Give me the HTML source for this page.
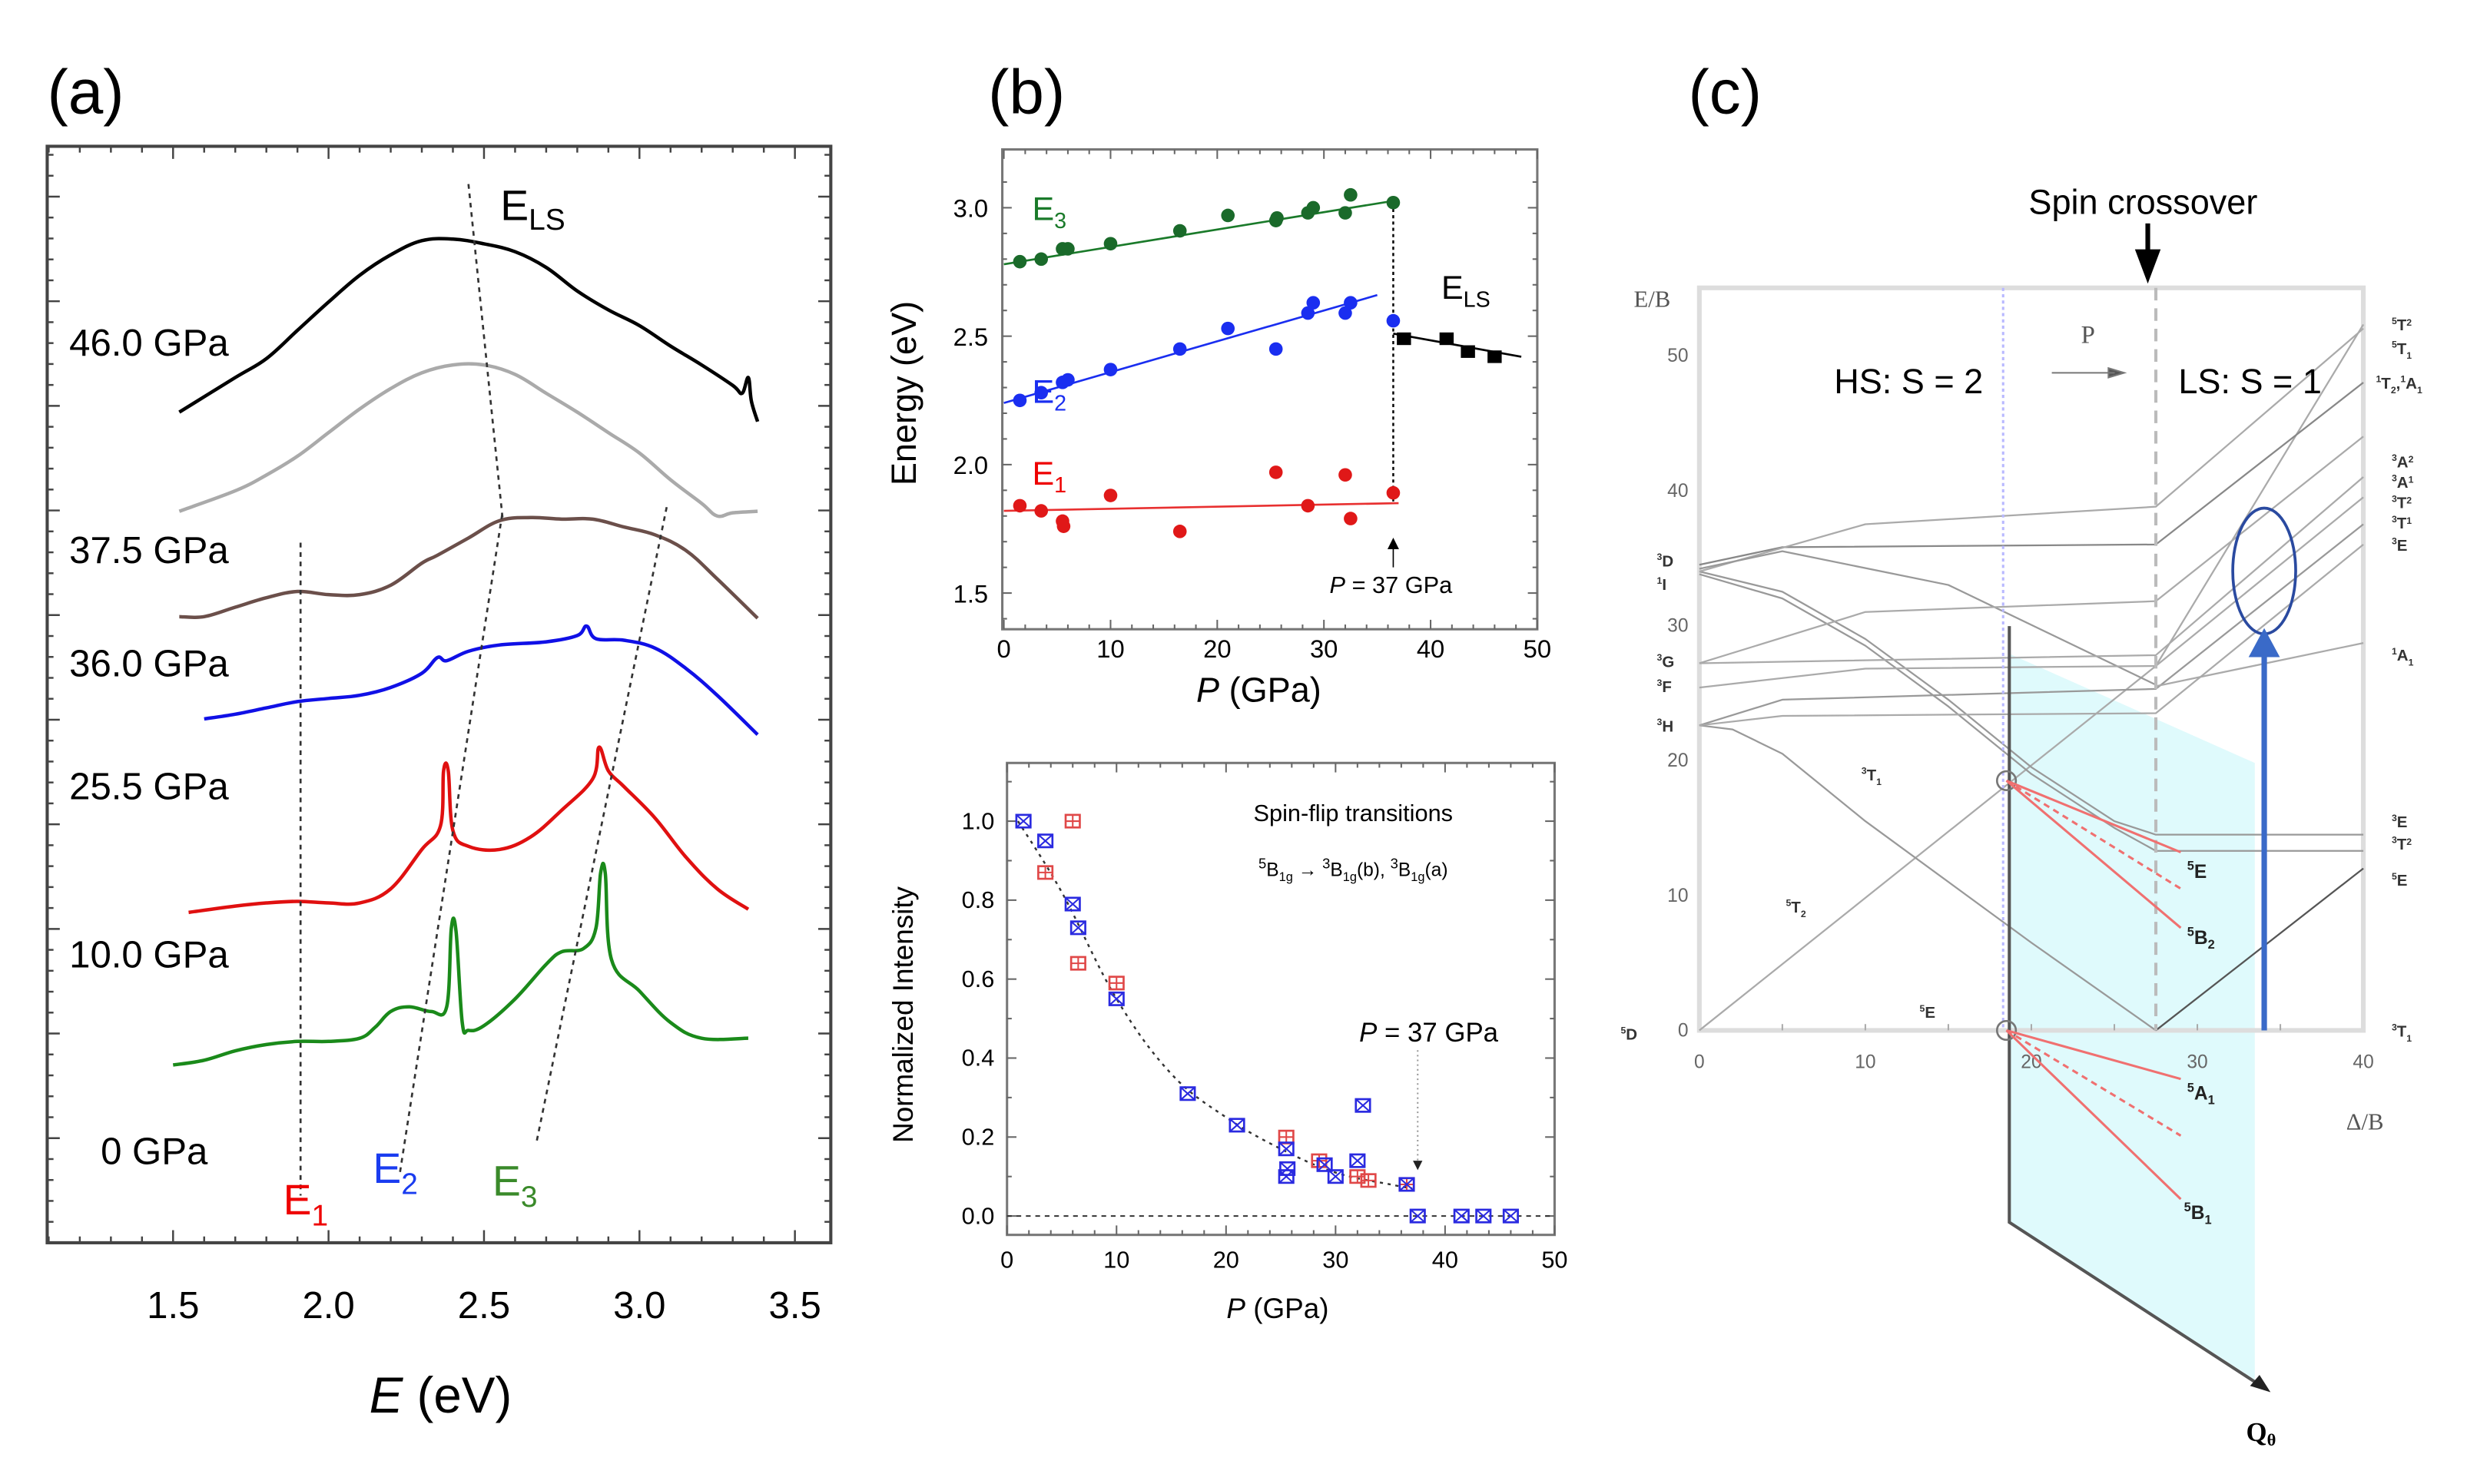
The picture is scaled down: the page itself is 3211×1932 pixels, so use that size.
<!DOCTYPE html>
<html><head><meta charset="utf-8">
<style>
html,body{margin:0;padding:0;background:#fff;}
svg{display:block;}
text{font-family:"Liberation Sans","DejaVu Sans",sans-serif;}
.ser{font-family:"Liberation Serif","DejaVu Serif",serif;}
</style></head>
<body>
<svg id="fig" width="3211" height="1932" viewBox="0 0 3211 1932" xmlns="http://www.w3.org/2000/svg">
<g id="root" transform="scale(2.048)">
 <g id="pa">
  <text x="30" y="72" font-size="40">(a)</text>
  <rect x="30" y="93" width="498" height="697" fill="none" stroke="#444" stroke-width="2"/>
  <g id="pa-ticks"></g>
  <g id="pa-curves"></g>
  <g font-size="24" fill="#000">
   <text x="44" y="226">46.0 GPa</text>
   <text x="44" y="358">37.5 GPa</text>
   <text x="44" y="430">36.0 GPa</text>
   <text x="44" y="508">25.5 GPa</text>
   <text x="44" y="615">10.0 GPa</text>
   <text x="64" y="740">0 GPa</text>
  </g>
  <text x="318" y="140" font-size="27">E<tspan font-size="19" dy="6">LS</tspan></text>
  <text x="180" y="772" font-size="27" fill="#e00">E<tspan font-size="19" dy="7">1</tspan></text>
  <text x="237" y="752" font-size="27" fill="#1a3cf0">E<tspan font-size="19" dy="7">2</tspan></text>
  <text x="313" y="760" font-size="27" fill="#3a8a2a">E<tspan font-size="19" dy="7">3</tspan></text>
  <g id="pa-xlabels" font-size="24" text-anchor="middle"></g>
  <text x="280" y="898" font-size="32" text-anchor="middle"><tspan font-style="italic">E</tspan> (eV)</text>
 </g>
 <g id="pb">
  <text x="628" y="72" font-size="40">(b)</text>
  <rect x="637" y="95" width="340" height="305" fill="none" stroke="#777" stroke-width="1.5"/>
  <g id="pb-ticks"></g>
  <g id="pb-marks"></g>
  <text x="656" y="140" font-size="21" fill="#1a7a2a">E<tspan font-size="14" dy="5">3</tspan></text>
  <text x="656" y="256" font-size="21" fill="#1a2ef0">E<tspan font-size="14" dy="5">2</tspan></text>
  <text x="656" y="308" font-size="21" fill="#e00">E<tspan font-size="14" dy="5">1</tspan></text>
  <text x="916" y="190" font-size="21">E<tspan font-size="14" dy="5">LS</tspan></text>
  <text x="845" y="377" font-size="15"><tspan font-style="italic">P</tspan> = 37 GPa</text>
  <text x="582" y="250" font-size="22" text-anchor="middle" transform="rotate(-90 582 250)">Energy (eV)</text>
  <text x="800" y="446" font-size="22" text-anchor="middle"><tspan font-style="italic">P</tspan> (GPa)</text>

  <rect x="640" y="485" width="348" height="300" fill="none" stroke="#777" stroke-width="1.5"/>
  <g id="pc-ticks"></g>
  <g id="pc-marks"></g>
  <text x="860" y="522" font-size="15" text-anchor="middle">Spin-flip transitions</text>
  <text x="860" y="557" font-size="12" text-anchor="middle"><tspan font-size="9" dy="-5">5</tspan><tspan dy="5">B</tspan><tspan font-size="8" dy="3">1g</tspan><tspan dy="-3"> → </tspan><tspan font-size="9" dy="-5">3</tspan><tspan dy="5">B</tspan><tspan font-size="8" dy="3">1g</tspan><tspan dy="-3">(b), </tspan><tspan font-size="9" dy="-5">3</tspan><tspan dy="5">B</tspan><tspan font-size="8" dy="3">1g</tspan><tspan dy="-3">(a)</tspan></text>
  <text x="908" y="662" font-size="17" text-anchor="middle"><tspan font-style="italic">P</tspan> = 37 GPa</text>
  <text x="580" y="645" font-size="18" text-anchor="middle" transform="rotate(-90 580 645)">Normalized Intensity</text>
  <text x="812" y="838" font-size="18" text-anchor="middle"><tspan font-style="italic">P</tspan> (GPa)</text>
 </g>
 <g id="pcc">
  <text x="1073" y="72" font-size="40">(c)</text>
  <polygon id="cyan" fill="#dffafc"/>
  <rect x="1080" y="183" width="422" height="472" fill="none" stroke="#ddd" stroke-width="3"/>
  <g id="pd-ticks" class="ser"></g>
  <g id="pd-lines"></g>
  <g id="pd-over"></g>
  <text x="1362" y="136" font-size="22" text-anchor="middle">Spin crossover</text>
  <text x="1213" y="250" font-size="22" text-anchor="middle">HS: S = 2</text>
  <text x="1430" y="250" font-size="22" text-anchor="middle">LS: S = 1</text>
  <text x="1327" y="218" font-size="16" class="ser" fill="#555" text-anchor="middle">P</text>
  <text x="1050" y="195" font-size="15" class="ser" fill="#555" text-anchor="middle">E/B</text>
  <text x="1503" y="718" font-size="15" class="ser" fill="#555" text-anchor="middle">Δ/B</text>
  <text x="1437" y="916" font-size="17" class="ser" font-weight="bold" text-anchor="middle">Q<tspan font-size="11" dy="3">θ</tspan></text>
  <g class="ser" font-size="10" font-weight="bold" fill="#333">
   <text x="1183" y="496"><tspan font-size="6" dy="-4">3</tspan><tspan dy="4">T</tspan><tspan font-size="6" dy="3">1</tspan></text>
   <text x="1135" y="580"><tspan font-size="6" dy="-4">5</tspan><tspan dy="4">T</tspan><tspan font-size="6" dy="3">2</tspan></text>
   <text x="1220" y="647"><tspan font-size="6" dy="-4">5</tspan><tspan dy="4">E</tspan></text>
   <text x="1030" y="661"><tspan font-size="6" dy="-4">5</tspan><tspan dy="4">D</tspan></text>
   <text x="1053" y="360"><tspan font-size="6" dy="-4">3</tspan><tspan dy="4">D</tspan></text>
   <text x="1053" y="375"><tspan font-size="6" dy="-4">1</tspan><tspan dy="4">I</tspan></text>
   <text x="1053" y="424"><tspan font-size="6" dy="-4">3</tspan><tspan dy="4">G</tspan></text>
   <text x="1053" y="440"><tspan font-size="6" dy="-4">3</tspan><tspan dy="4">F</tspan></text>
   <text x="1053" y="465"><tspan font-size="6" dy="-4">3</tspan><tspan dy="4">H</tspan></text>
   <text x="1520" y="210"><tspan font-size="6" dy="-4">5</tspan><tspan dy="4">T</tspan><tspan font-size="6" dy="-3">2</tspan></text>
   <text x="1520" y="225"><tspan font-size="6" dy="-4">5</tspan><tspan dy="4">T</tspan><tspan font-size="6" dy="3">1</tspan></text>
   <text x="1510" y="247"><tspan font-size="6" dy="-4">1</tspan><tspan dy="4">T</tspan><tspan font-size="6" dy="3">2</tspan><tspan dy="-3">,</tspan><tspan font-size="6" dy="-4">1</tspan><tspan dy="4">A</tspan><tspan font-size="6" dy="3">1</tspan></text>
   <text x="1520" y="297"><tspan font-size="6" dy="-4">3</tspan><tspan dy="4">A</tspan><tspan font-size="6" dy="-3">2</tspan></text>
   <text x="1520" y="310"><tspan font-size="6" dy="-4">3</tspan><tspan dy="4">A</tspan><tspan font-size="6" dy="-3">1</tspan></text>
   <text x="1520" y="323"><tspan font-size="6" dy="-4">3</tspan><tspan dy="4">T</tspan><tspan font-size="6" dy="-3">2</tspan></text>
   <text x="1520" y="336"><tspan font-size="6" dy="-4">3</tspan><tspan dy="4">T</tspan><tspan font-size="6" dy="-3">1</tspan></text>
   <text x="1520" y="350"><tspan font-size="6" dy="-4">3</tspan><tspan dy="4">E</tspan></text>
   <text x="1520" y="420"><tspan font-size="6" dy="-4">1</tspan><tspan dy="4">A</tspan><tspan font-size="6" dy="3">1</tspan></text>
   <text x="1520" y="526"><tspan font-size="6" dy="-4">3</tspan><tspan dy="4">E</tspan></text>
   <text x="1520" y="540"><tspan font-size="6" dy="-4">3</tspan><tspan dy="4">T</tspan><tspan font-size="6" dy="-3">2</tspan></text>
   <text x="1520" y="563"><tspan font-size="6" dy="-4">5</tspan><tspan dy="4">E</tspan></text>
   <text x="1520" y="659"><tspan font-size="6" dy="-4">3</tspan><tspan dy="4">T</tspan><tspan font-size="6" dy="3">1</tspan></text>
  </g>
  <g class="ser" font-size="12" font-weight="bold" fill="#222">
   <text x="1390" y="558"><tspan font-size="8" dy="-5">5</tspan><tspan dy="5">E</tspan></text>
   <text x="1390" y="600"><tspan font-size="8" dy="-5">5</tspan><tspan dy="5">B</tspan><tspan font-size="8" dy="3">2</tspan></text>
   <text x="1390" y="699"><tspan font-size="8" dy="-5">5</tspan><tspan dy="5">A</tspan><tspan font-size="8" dy="3">1</tspan></text>
   <text x="1388" y="775"><tspan font-size="8" dy="-5">5</tspan><tspan dy="5">B</tspan><tspan font-size="8" dy="3">1</tspan></text>
  </g>
 </g>
</g>
</svg>
<script>
const aE_46 = [1.52,1.7,1.8,1.9,2.0,2.1,2.2,2.3,2.4,2.5,2.6,2.7,2.8,2.9,3.0,3.1,3.2,3.3,3.33,3.35,3.36,3.38];
const aI_46 = [528,550,562,580,598,615,628,637,638,635,630,620,605,593,583,570,558,545,540,550,535,522];
const aE_44 = [1.52,1.7,1.8,1.9,2.0,2.1,2.2,2.3,2.4,2.5,2.6,2.7,2.8,2.9,3.0,3.1,3.2,3.25,3.3,3.38];
const aI_44 = [465,478,488,500,515,530,543,553,558,558,552,540,528,515,502,485,470,462,464,465];
const aE_375 = [1.52,1.6,1.7,1.8,1.9,2.0,2.1,2.2,2.3,2.35,2.45,2.55,2.65,2.75,2.85,2.95,3.05,3.15,3.25,3.38];
const aI_375 = [398,398,404,410,414,412,412,418,432,437,448,459,461,460,460,455,450,440,422,397];
const aE_36 = [1.6,1.7,1.8,1.9,2.0,2.1,2.2,2.3,2.35,2.38,2.45,2.55,2.7,2.8,2.83,2.86,2.95,3.05,3.15,3.25,3.38];
const aI_36 = [333,336,340,344,346,348,353,362,372,370,376,380,382,386,392,384,383,378,365,348,323];
const aE_255 = [1.55,1.7,1.8,1.9,2.0,2.1,2.2,2.3,2.36,2.37,2.385,2.4,2.45,2.55,2.65,2.75,2.85,2.87,2.9,2.95,3.05,3.15,3.25,3.35];
const aI_255 = [210,214,216,217,216,216,225,250,265,300,300,262,252,250,258,275,295,315,300,290,270,245,225,212];
const aE_0 = [1.5,1.6,1.7,1.8,1.9,2.0,2.1,2.15,2.2,2.26,2.33,2.38,2.395,2.41,2.43,2.45,2.5,2.6,2.7,2.75,2.82,2.86,2.875,2.89,2.91,3.0,3.1,3.2,3.35];
const aI_0 = [113,116,122,126,128,128,130,137,147,150,147,150,200,198,140,135,138,155,177,185,187,200,235,235,180,160,140,130,130];
const aTicks = [1.5,2.0,2.5,3.0,3.5];
const aTickLabels = ["1.5","2.0","2.5","3.0","3.5"];
const aE1Guide = [[1.91,445],[1.91,30]];
const aE2Guide = [[2.23,45],[2.56,465]];
const aELSGuide = [[2.45,673],[2.56,460]];
const aE3Guide = [[2.67,65],[3.09,470]];

const bP_E3 = [1.5,3.5,5.5,6,10,16.5,21,25.5,25.6,28.5,29,32,32.5,36.5];
const bV_E3 = [2.79,2.80,2.84,2.84,2.86,2.91,2.97,2.95,2.96,2.98,3.00,2.98,3.05,3.02];
const bP_E2 = [1.5,3.5,5.5,6,10,16.5,21,25.5,28.5,29,32,32.5,36.5];
const bV_E2 = [2.25,2.28,2.32,2.33,2.37,2.45,2.53,2.45,2.59,2.63,2.59,2.63,2.56];
const bP_E1 = [1.5,3.5,5.5,5.6,10,16.5,25.5,28.5,32,32.5,36.5];
const bV_E1 = [1.84,1.82,1.78,1.76,1.88,1.74,1.97,1.84,1.96,1.79,1.89];
const bP_ELS = [37.5,41.5,43.5,46];
const bV_ELS = [2.49,2.49,2.44,2.42];
const bFitE3 = [[0,2.78],[37,3.03]];
const bFitE2 = [[0,2.24],[35,2.66]];
const bFitE1 = [[0,1.82],[37,1.85]];
const bFitELS = [[36.5,2.51],[48.5,2.42]];
const bYTicks = [1.5,2.0,2.5,3.0];
const bYTickLabels = ["1.5","2.0","2.5","3.0"];
const bXTicks = [0,10,20,30,40,50];
const bXTickLabels = ["0","10","20","30","40","50"];

const cP_blue = [1.5,3.5,6,6.5,10,16.5,21,25.5,25.5,25.6,29,30,32,32.5,36.5,37.5,41.5,43.5,46];
const cV_blue = [1.0,0.95,0.79,0.73,0.55,0.31,0.23,0.17,0.10,0.12,0.13,0.10,0.14,0.28,0.08,0,0,0,0];
const cP_red = [6,3.5,6.5,10,25.5,28.5,32,33,36.5];
const cV_red = [1.0,0.87,0.64,0.59,0.20,0.14,0.10,0.09,0.08];
const cFitP = [1,5,10,15,20,25,30,35,37];
const cFitV = [1.0,0.82,0.55,0.36,0.25,0.17,0.11,0.08,0.07];
const cYTicks = [0,0.2,0.4,0.6,0.8,1.0];
const cYTickLabels = ["0.0","0.2","0.4","0.6","0.8","1.0"];
const cXTicks = [0,10,20,30,40,50];
const cXTickLabels = ["0","10","20","30","40","50"];

const dLines = [
 {d:[0,27.5,40], e:[0,27,52.3], c:"#aaa"},
 {d:[0,2,5,10,15,20,27.5], e:[22.6,22.3,20.5,15.5,11,6.5,0], c:"#999"},
 {d:[27.5,40], e:[0,12], c:"#555"},
 {d:[0,5,10,15,20,25,27.5,40], e:[34,32.5,29,24.5,19.5,15.5,14.5,14.5], c:"#999"},
 {d:[0,5,10,15,20,25,27.5,40], e:[33.8,32,28.5,24,19,15,13.3,13.3], c:"#999"},
 {d:[0,5,27.5,40], e:[34.5,35.8,36,48], c:"#888"},
 {d:[0,10,27.5,40], e:[34,37.5,38.8,52], c:"#aaa"},
 {d:[0,5,15,27.5], e:[34.2,35.5,33,25.6], c:"#999"},
 {d:[0,10,27.5,40], e:[27.2,31,31.8,44], c:"#aaa"},
 {d:[0,27.5,40], e:[27.2,27.8,41], c:"#aaa"},
 {d:[0,10,27.5,40], e:[25.4,26.8,27,39.5], c:"#aaa"},
 {d:[0,5,27.5,40], e:[22.6,24.5,25.3,37.5], c:"#999"},
 {d:[0,5,27.5,40], e:[22.6,23.3,23.5,36], c:"#aaa"},
 {d:[27.5,40], e:[25.5,28.7], c:"#aaa"}
];
const dYTicks = [0,10,20,30,40,50];
const dYTickLabels = ["0","10","20","30","40","50"];
const dXTicks = [0,10,20,30,40];
const dXTickLabels = ["0","10","20","30","40"];

const NS = "http://www.w3.org/2000/svg";
function mk(parent, tag, attrs){const el=document.createElementNS(NS,tag);for(const k in attrs)el.setAttribute(k,attrs[k]);parent.appendChild(el);return el;}
function poly(xs,ys,fx,fy){return xs.map((x,i)=>(i?"L":"M")+fx(x).toFixed(2)+" "+fy(ys[i]).toFixed(2)).join(" ");}
function smooth(xs,ys,fx,fy){
 const P=xs.map((x,i)=>[fx(x),fy(ys[i])]);
 let d="M"+P[0][0].toFixed(2)+" "+P[0][1].toFixed(2);
 for(let i=0;i<P.length-1;i++){
  const p0=P[Math.max(0,i-1)],p1=P[i],p2=P[i+1],p3=P[Math.min(P.length-1,i+2)];
  const t=0.18;
  const c1=[p1[0]+(p2[0]-p0[0])*t,p1[1]+(p2[1]-p0[1])*t];
  const c2=[p2[0]-(p3[0]-p1[0])*t,p2[1]-(p3[1]-p1[1])*t];
  d+=` C${c1[0].toFixed(2)} ${c1[1].toFixed(2)} ${c2[0].toFixed(2)} ${c2[1].toFixed(2)} ${p2[0].toFixed(2)} ${p2[1].toFixed(2)}`;
 }
 return d;}
const $ = id=>document.getElementById(id);

const xA = e => 110 + (e-1.5)*197.6;
const yA = v => 790 - v;
{
 const g=$("pa-ticks");
 for(let e=1.1;e<=3.55;e+=0.1){const maj=Math.abs(e*2-Math.round(e*2))<1e-6;const L=maj?8:4;
  let t=mk(g,"line",{x1:xA(e),x2:xA(e),y1:790,y2:790-L,stroke:"#444","stroke-width":1.2});
  
  
  t=mk(g,"line",{x1:xA(e),x2:xA(e),y1:93,y2:93+L,stroke:"#444","stroke-width":1.2});
  
  }
 for(let k=0;k<=52;k++){const y=790-k*13.3;if(y<93)break;const L=(k%5===0)?8:4;
  let t=mk(g,"line",{x1:30,x2:30+L,y1:y,y2:y,stroke:"#444","stroke-width":1.2});
  
  
  t=mk(g,"line",{x1:528,x2:528-L,y1:y,y2:y,stroke:"#444","stroke-width":1.2});
  
  }
 const gl=$("pa-xlabels");
 aTicks.forEach((v,i)=>{const t=mk(gl,"text",{x:xA(v),y:838});t.textContent=aTickLabels[i];
  
  });
 const gc=$("pa-curves");
 const series=[[aE_46,aI_46,"#000","spectrum-46gpa"],[aE_44,aI_44,"#aaa","spectrum-44gpa"],[aE_375,aI_375,"#6b4f4a","spectrum-37-5gpa"],[aE_36,aI_36,"#1010e6","spectrum-36gpa"],[aE_255,aI_255,"#e01010","spectrum-25-5gpa"],[aE_0,aI_0,"#1a8a1a","spectrum-0gpa"]];
 series.forEach(s=>{const p=mk(gc,"path",{d:smooth(s[0],s[1],xA,yA),fill:"none",stroke:s[2],"stroke-width":2.2,"stroke-linejoin":"round"});
  
  });
 [[aE1Guide,"guide-e1"],[aE2Guide,"guide-e2"],[aELSGuide,"guide-els"],[aE3Guide,"guide-e3"]].forEach(gd=>{
  const pts=gd[0];const l=mk(gc,"line",{x1:xA(pts[0][0]),y1:yA(pts[0][1]),x2:xA(pts[1][0]),y2:yA(pts[1][1]),stroke:"#333","stroke-width":1.3,"stroke-dasharray":"3 3"});
  
  });
}

const xB = p => 638 + p*6.78;
const yB = e => 377 - (e-1.5)*163.3;
{
 const g=$("pb-ticks");
 for(let p=0;p<=50;p+=2){const L=(p%10===0)?6:3;
  let t=mk(g,"line",{x1:xB(p),x2:xB(p),y1:400,y2:400-L,stroke:"#666"});
  
  
  t=mk(g,"line",{x1:xB(p),x2:xB(p),y1:95,y2:95+L,stroke:"#666"});
  
  }
 for(let e=1.4;e<=3.2;e+=0.1){const maj=Math.abs(e*2-Math.round(e*2))<1e-6;const L=maj?6:3;
  let t=mk(g,"line",{x1:637,x2:637+L,y1:yB(e),y2:yB(e),stroke:"#666"});
  
  
  t=mk(g,"line",{x1:977,x2:977-L,y1:yB(e),y2:yB(e),stroke:"#666"});
  
  }
 bYTicks.forEach((v,i)=>{const t=mk(g,"text",{x:628,y:yB(v)+6,"font-size":16,"text-anchor":"end"});t.textContent=bYTickLabels[i];
  
  });
 bXTicks.forEach((v,i)=>{const t=mk(g,"text",{x:xB(v),y:418,"font-size":16,"text-anchor":"middle"});t.textContent=bXTickLabels[i];
  
  });
 const m=$("pb-marks");
 [[bFitE3,"#1a7a2a","fit-e3"],[bFitE2,"#1a2ef0","fit-e2"],[bFitE1,"#e83030","fit-e1"],[bFitELS,"#000","fit-els"]].forEach(f=>{
  const l=mk(m,"line",{x1:xB(f[0][0][0]),y1:yB(f[0][0][1]),x2:xB(f[0][1][0]),y2:yB(f[0][1][1]),stroke:f[1],"stroke-width":1.3});
  
  });
 let l=mk(m,"line",{x1:xB(36.5),y1:yB(3.02),x2:xB(36.5),y2:yB(1.85),stroke:"#000","stroke-width":1.2,"stroke-dasharray":"2 2"});
 
 
 l=mk(m,"path",{d:`M${xB(36.5)} ${yB(1.71)} l-3 6 h6 z M${xB(36.5)} ${yB(1.68)} V${yB(1.6)}`,fill:"#000",stroke:"#000","stroke-width":0.8});
 
 
 [[bP_E3,bV_E3,"#1a6a2a","point-e3"],[bP_E2,bV_E2,"#1a2ef0","point-e2"],[bP_E1,bV_E1,"#e01818","point-e1"]].forEach(s=>{
  s[0].forEach((p,i)=>{const c=mk(m,"circle",{cx:xB(p),cy:yB(s[1][i]),r:4.3,fill:s[2]});
   
   });});
 bP_ELS.forEach((p,i)=>{const r=mk(m,"rect",{x:xB(p)-4.5,y:yB(bV_ELS[i])-4,width:9,height:8,fill:"#000"});
  
  });
}

const xC = p => 640 + p*6.96;
const yC = v => 773 - v*251;
{
 const g=$("pc-ticks");
 for(let p=0;p<=50;p+=2){const L=(p%10===0)?6:3;
  let t=mk(g,"line",{x1:xC(p),x2:xC(p),y1:785,y2:785-L,stroke:"#666"});
  
  
  t=mk(g,"line",{x1:xC(p),x2:xC(p),y1:485,y2:485+L,stroke:"#666"});
  
  }
 for(let k=0;k<=11;k++){const v=k*0.1;const L=(k%2===0)?6:3;
  let t=mk(g,"line",{x1:640,x2:640+L,y1:yC(v),y2:yC(v),stroke:"#666"});
  
  
  t=mk(g,"line",{x1:988,x2:988-L,y1:yC(v),y2:yC(v),stroke:"#666"});
  
  }
 cYTicks.forEach((v,i)=>{const t=mk(g,"text",{x:632,y:yC(v)+5,"font-size":15,"text-anchor":"end"});t.textContent=cYTickLabels[i];
  
  });
 cXTicks.forEach((v,i)=>{const t=mk(g,"text",{x:xC(v),y:806,"font-size":15,"text-anchor":"middle"});t.textContent=cXTickLabels[i];
  
  });
 const m=$("pc-marks");
 let l=mk(m,"line",{x1:640,x2:988,y1:yC(0),y2:yC(0),stroke:"#333","stroke-dasharray":"3 3"});
 
 
 l=mk(m,"path",{d:smooth(cFitP,cFitV,xC,yC),fill:"none",stroke:"#333","stroke-width":1.2,"stroke-dasharray":"2 3"});
 
 
 l=mk(m,"path",{d:`M${xC(37.5)} ${yC(0.42)} V${yC(0.13)}`,stroke:"#999","stroke-dasharray":"1 2",fill:"none"});
 
 
 l=mk(m,"path",{d:`M${xC(37.5)-3} ${yC(0.14)} l3 6 l3 -6 z`,fill:"#222"});
 
 
 function sq(p,v,col,cross,name){const x=xC(p),y=yC(v);const gg=mk(m,"g",{});
  
  
  mk(gg,"rect",{x:x-4.5,y:y-4,width:9,height:8,fill:"none",stroke:col,"stroke-width":1.3});
  if(cross) mk(gg,"path",{d:`M${x-4.5} ${y-4}L${x+4.5} ${y+4}M${x+4.5} ${y-4}L${x-4.5} ${y+4}`,stroke:col,"stroke-width":1});
  else mk(gg,"path",{d:`M${x} ${y-4}V${y+4}M${x-4.5} ${y}H${x+4.5}`,stroke:col,"stroke-width":1});}
 cP_red.forEach((p,i)=>sq(p,cV_red[i],"#e04848",false,"point-red"));
 cP_blue.forEach((p,i)=>sq(p,cV_blue[i],"#2a2ae0",true,"point-blue"));
}

const xD = d => 1080 + d*10.55;
const yD = e => 655 - e*8.58;
{
 const cy=$("cyan");
 cy.setAttribute("points","1278,416 1433,485 1433,877 1278,777");
 const g=$("pd-ticks");
 dXTicks.forEach((v,i)=>{const t=mk(g,"text",{x:xD(v),y:679,"font-size":12,fill:"#666","text-anchor":"middle"});t.textContent=dXTickLabels[i];
  
  });
 dYTicks.forEach((v,i)=>{const t=mk(g,"text",{x:1073,y:yD(v)+4,"font-size":12,fill:"#666","text-anchor":"end"});t.textContent=dYTickLabels[i];
  
  });
 for(let d=5;d<40;d+=5){const t=mk(g,"line",{x1:xD(d),x2:xD(d),y1:655,y2:651,stroke:"#aaa"});
  
  }
 const gl=$("pd-lines");
 dLines.forEach(L=>{const p=mk(gl,"path",{d:poly(L.d,L.e,xD,yD),fill:"none",stroke:L.c,"stroke-width":1.1,"stroke-linejoin":"round"});
  
  });
 const o=$("pd-over");
 let e=mk(o,"line",{x1:xD(27.5),x2:xD(27.5),y1:183,y2:655,stroke:"#bbb","stroke-width":2,"stroke-dasharray":"8 5"});
 
 
 e=mk(o,"line",{x1:xD(18.3),x2:xD(18.3),y1:183,y2:655,stroke:"#b8b8ff","stroke-width":1.5,"stroke-dasharray":"2 2"});
 
 
 e=mk(o,"path",{d:"M1365 142 V165 M1359 160 L1365 176 L1371 160 Z",stroke:"#000","stroke-width":3,fill:"#000"});
 
 
 e=mk(o,"path",{d:"M1304 237 H1344 M1340 234 L1350 237 L1340 240 Z",stroke:"#777","stroke-width":1,fill:"#555"});
 
 
 e=mk(o,"path",{d:"M1277 398 V777 L1437 881",stroke:"#555","stroke-width":2,fill:"none"});
 
 
 e=mk(o,"path",{d:"M1443 885 L1430 881 L1436 874 Z",fill:"#222"});
 
 
 [[18.5,18.5],[18.5,0]].forEach(c=>{const k=mk(o,"circle",{cx:xD(c[0]),cy:yD(c[1]),r:6,fill:"none",stroke:"#777","stroke-width":1.3});
  
  });
 const splits=[[18.5,18.5,29,13.2,false],[18.5,18.5,29,10.5,true],[18.5,18.5,29,7.6,false],[18.5,0,29,-3.6,false],[18.5,0,29,-7.8,true],[18.5,0,29,-12.5,false]];
 splits.forEach(s=>{const k=mk(o,"line",{x1:xD(s[0]),y1:yD(s[1]),x2:xD(s[2]),y2:yD(s[3]),stroke:"#f07070","stroke-width":1.5,"stroke-dasharray":s[4]?"4 3":"none"});
  
  });
 e=mk(o,"ellipse",{cx:1439,cy:363,rx:20,ry:40,fill:"none",stroke:"#2a4aa0","stroke-width":1.8});
 
 
 e=mk(o,"path",{d:"M1439 655 V414 M1432 416 L1439 403 L1446 416 Z",stroke:"#3a6ac8","stroke-width":3.5,fill:"#3a6ac8"});
 
 
}
</script>
</body></html>
